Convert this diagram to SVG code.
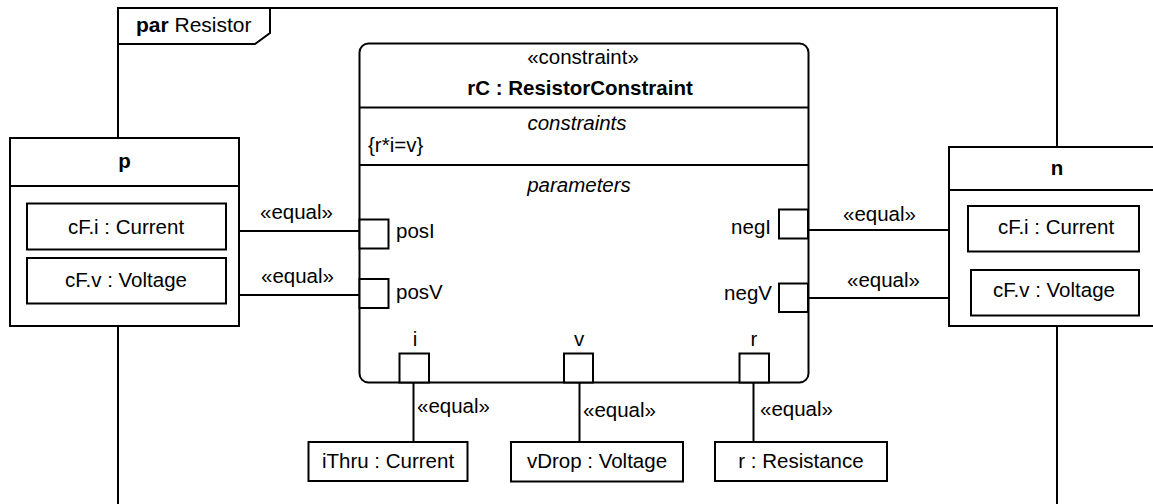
<svg xmlns="http://www.w3.org/2000/svg" width="1153" height="504" viewBox="0 0 1153 504">
<style>
text{font-family:"Liberation Sans",Arial,sans-serif;font-size:20.5px;fill:#000}
.b{font-weight:bold}
.it{font-style:italic}
.m{text-anchor:middle}
.e{text-anchor:end}
.s{fill:#fff;stroke:#000;stroke-width:2}
.ln{fill:none;stroke:#000;stroke-width:2}
</style>
<rect x="0" y="0" width="1153" height="504" fill="#fff"/>
<g id="frame">
<path class="ln" d="M118,138 V8 H1057 V147"/>
<path class="ln" d="M118,326 V504"/>
<path class="ln" d="M1057,326 V504"/>
<path class="ln" d="M118,44 H255 L270,33 V8"/>
<text x="136" y="32" style="font-size:21px"><tspan class="b">par</tspan> Resistor</text>
</g>
<g id="connectors">
<line class="ln" x1="226" y1="231" x2="359" y2="231"/>
<line class="ln" x1="226" y1="295" x2="359" y2="295"/>
<line class="ln" x1="807" y1="230" x2="968" y2="230"/>
<line class="ln" x1="807" y1="298" x2="971" y2="298"/>
<line class="ln" x1="413.5" y1="382" x2="413.5" y2="442"/>
<line class="ln" x1="579.5" y1="382" x2="579.5" y2="442"/>
<line class="ln" x1="753.5" y1="382" x2="753.5" y2="442"/>
<text x="260" y="219">«equal»</text>
<text x="261" y="283">«equal»</text>
<text x="843" y="221">«equal»</text>
<text x="847" y="287">«equal»</text>
<text x="417" y="413">«equal»</text>
<text x="583" y="417">«equal»</text>
<text x="760" y="416">«equal»</text>
</g>
<g id="p">
<rect class="s" x="10" y="138" width="229" height="188"/>
<line class="ln" x1="10" y1="186" x2="239" y2="186"/>
<text class="m b" x="124.5" y="168">p</text>
<g id="p_cFi">
<rect class="s" x="27" y="203.5" width="199" height="46"/>
<text class="m" x="126" y="234">cF.i : Current</text>
</g>
<g id="p_cFv">
<rect class="s" x="27" y="258" width="199" height="45.5"/>
<text class="m" x="126" y="287">cF.v : Voltage</text>
</g>
</g>
<g id="n">
<rect class="s" x="949" y="147" width="220" height="179"/>
<line class="ln" x1="949" y1="190" x2="1169" y2="190"/>
<text class="m b" x="1057" y="175">n</text>
<g id="n_cFi">
<rect class="s" x="968" y="206" width="171" height="45.5"/>
<text class="m" x="1056" y="234">cF.i : Current</text>
</g>
<g id="n_cFv">
<rect class="s" x="971" y="270" width="168" height="45.5"/>
<text class="m" x="1054" y="297">cF.v : Voltage</text>
</g>
</g>
<g id="rC">
<rect class="s" x="359.5" y="43.5" width="449" height="339" rx="9" ry="9"/>
<line class="ln" x1="359.5" y1="107.5" x2="808.5" y2="107.5"/>
<line class="ln" x1="359.5" y1="165" x2="808.5" y2="165"/>
<text class="m" x="583" y="64">«constraint»</text>
<text class="m b" x="580" y="95">rC : ResistorConstraint</text>
<text class="m it" x="577" y="130">constraints</text>
<text x="368" y="152">{r*i=v}</text>
<text class="m it" x="579" y="192">parameters</text>
</g>
<g id="posI">
<rect class="s" x="359.5" y="219.5" width="29" height="29"/>
<text x="396" y="238">posI</text>
</g>
<g id="posV">
<rect class="s" x="359.5" y="279" width="29" height="29"/>
<text x="396" y="299">posV</text>
</g>
<g id="negI">
<rect class="s" x="779" y="209.5" width="29" height="29"/>
<text class="e" x="771" y="234">negI</text>
</g>
<g id="negV">
<rect class="s" x="779" y="283.5" width="29" height="28.5"/>
<text class="e" x="772" y="300">negV</text>
</g>
<g id="port_i">
<rect class="s" x="399.5" y="353.5" width="29.5" height="29"/>
<text class="m" x="415" y="346">i</text>
</g>
<g id="port_v">
<rect class="s" x="564" y="353.5" width="29" height="29"/>
<text class="m" x="579" y="346">v</text>
</g>
<g id="port_r">
<rect class="s" x="739.5" y="353.5" width="29.5" height="29"/>
<text class="m" x="754" y="346">r</text>
</g>
<g id="iThru">
<rect class="s" x="308.5" y="442" width="159" height="39"/>
<text class="m" x="388" y="468">iThru : Current</text>
</g>
<g id="vDrop">
<rect class="s" x="511" y="442" width="172" height="39.5"/>
<text class="m" x="597" y="468">vDrop : Voltage</text>
</g>
<g id="r">
<rect class="s" x="715" y="442" width="172" height="39"/>
<text class="m" x="801" y="468">r : Resistance</text>
</g>
</svg>
